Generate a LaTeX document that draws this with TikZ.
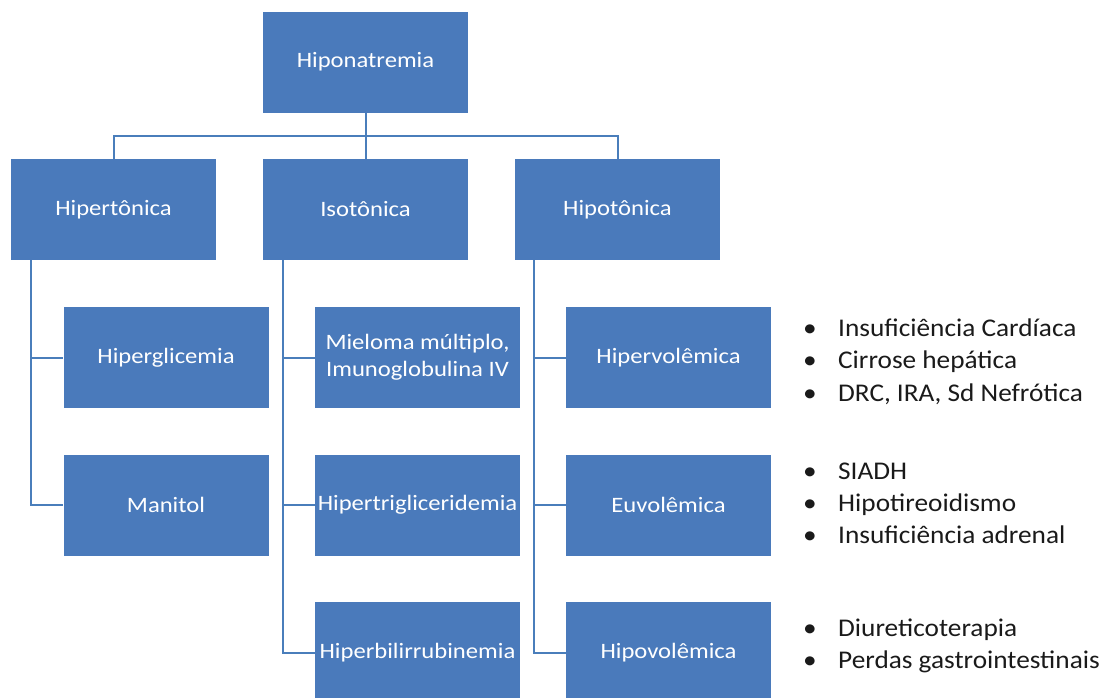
\documentclass[tikz,border=0pt]{standalone}
\usepackage{fontspec}
\setmainfont{Carlito}
\newfontfamily\boxfont[FakeStretch=1.12]{Carlito}
\newfontfamily\listfont[FakeStretch=1.07]{Carlito}
\definecolor{boxblue}{HTML}{4A7ABB}
\definecolor{linkblue}{HTML}{4A7EBB}
\definecolor{listtext}{HTML}{1A1A1A}
\newcommand{\itembullet}{\makebox[35pt][l]{•}}
\begin{document}
\begin{tikzpicture}[x=1pt,y=-1pt,
  box/.style={fill=boxblue, draw=none, minimum width=205pt, minimum height=101pt,
    inner sep=2pt, text=white, align=center, font=\boxfont\fontsize{22}{27}\selectfont},
  link/.style={draw=linkblue, line width=2pt},
  bulletitem/.style={anchor=base west, inner sep=0pt, text=listtext,
    font=\listfont\fontsize{25.5}{30}\selectfont}]
\useasboundingbox (0,0) rectangle (1107,697);
% root and the three tonicity classes
\node[box] (root) at (365.5,62) {Hiponatremia};
\node[box] (hiper) at (113.5,209.5) {Hipertônica};
\node[box] (iso) at (365.5,209.5) {Isotônica};
\node[box] (hipo) at (617.5,209.5) {Hipotônica};
% causes under each class
\node[box] (hgl) at (166,357.5) {Hiperglicemia};
\node[box] (man) at (166,505) {Manitol};
\node[box] (mie) at (417.5,357.5) {Mieloma múltiplo,\\Imunoglobulina IV};
\node[box] (htg) at (417.5,505) {Hipertrigliceridemia};
\node[box] (hbr) at (417.5,652.5) {Hiperbilirrubinemia};
\node[box] (hpv) at (668.5,357.5) {Hipervolêmica};
\node[box] (euv) at (668.5,505) {Euvolêmica};
\node[box] (hov) at (668.5,652.5) {Hipovolêmica};
% connectors
\coordinate (hub) at (365.5,136);
\draw[link] (root.south) -- (iso.north);
\draw[link] (hub) -| (hiper.north);
\draw[link] (hub) -| (hipo.north);
\coordinate (trA) at ([xshift=20pt]hiper.south west);
\coordinate (trB) at ([xshift=20pt]iso.south west);
\coordinate (trC) at ([xshift=19pt]hipo.south west);
\draw[link] (trA) |- (hgl.west);
\draw[link] (trA) |- (man.west);
\draw[link] (trB) |- (mie.west);
\draw[link] (trB) |- (htg.west);
\draw[link] (trB) |- (hbr.west);
\draw[link] (trC) |- (hpv.west);
\draw[link] (trC) |- (euv.west);
\draw[link] (trC) |- (hov.west);
% example lists
\node[bulletitem] (ha) at (803,336) {\itembullet Insuficiência Cardíaca};
\node[bulletitem] (hb) at (803,368.5) {\itembullet Cirrose hepática};
\node[bulletitem] (hc) at (803,401) {\itembullet DRC, IRA, Sd Nefrótica};
\node[bulletitem] (ea) at (803,479) {\itembullet SIADH};
\node[bulletitem] (eb) at (803,511) {\itembullet Hipotireoidismo};
\node[bulletitem] (ec) at (803,543.5) {\itembullet Insuficiência adrenal};
\node[bulletitem] (va) at (803,636) {\itembullet Diureticoterapia};
\node[bulletitem] (vb) at (803,668) {\itembullet Perdas gastrointestinais};
\end{tikzpicture}
\end{document}
